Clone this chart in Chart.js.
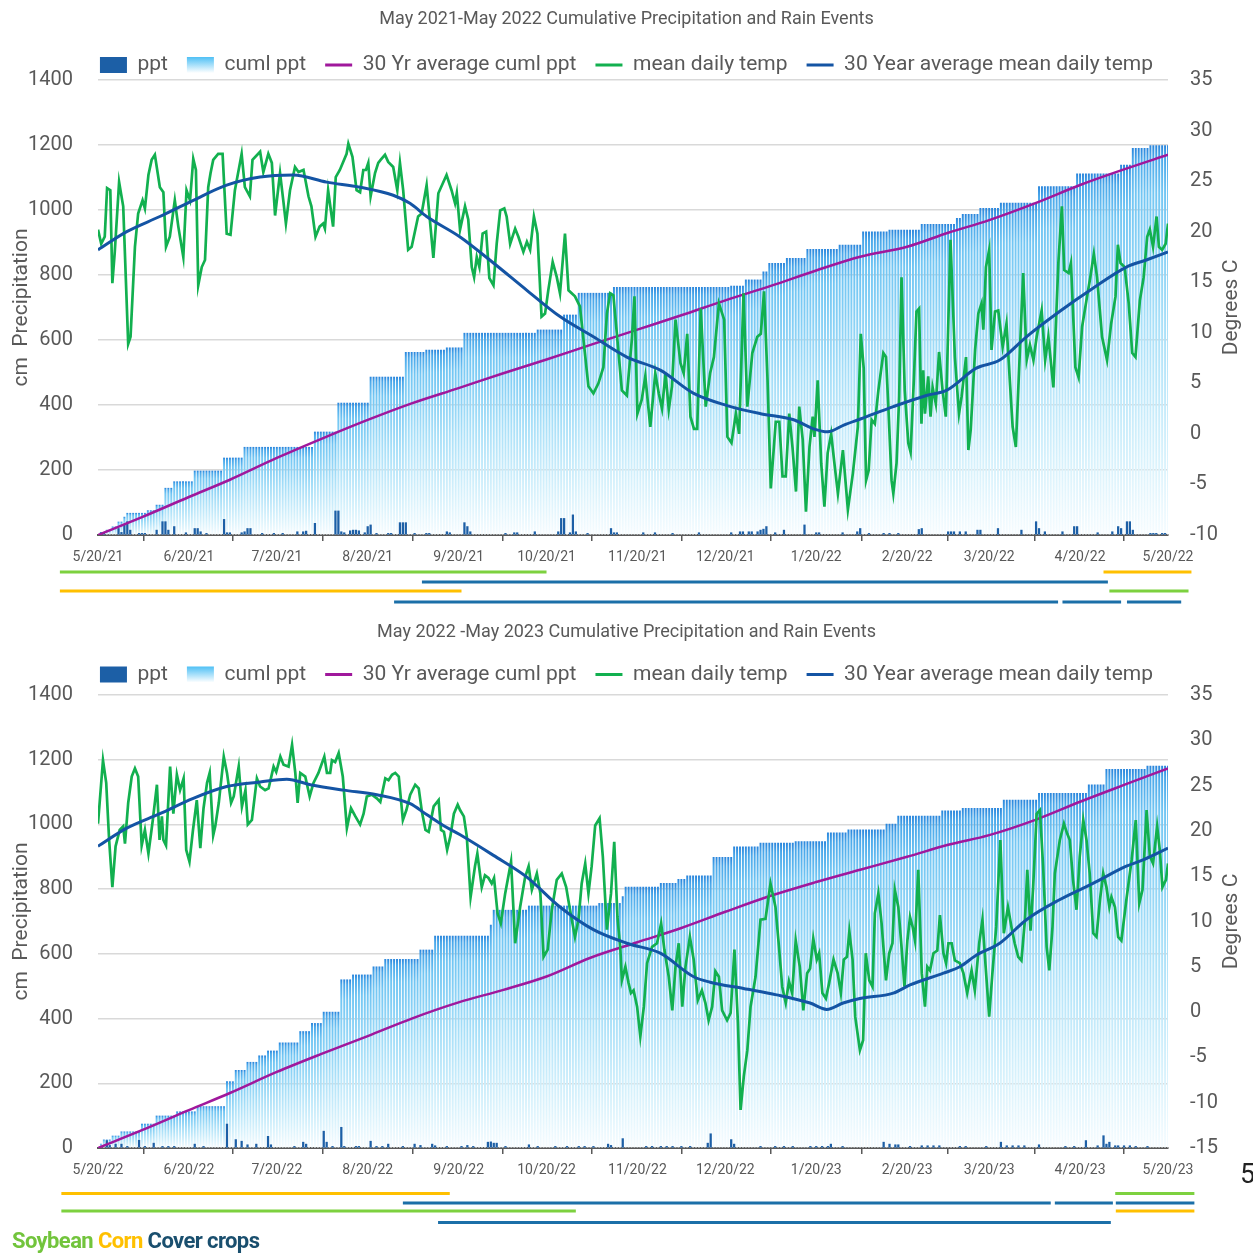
<!DOCTYPE html>
<html>
<head>
<meta charset="utf-8">
<title>Cumulative Precipitation and Rain Events</title>
<script src="https://cdn.jsdelivr.net/npm/chart.js@4.4.1/dist/chart.umd.min.js"></script>
<style>
  html, body { margin: 0; padding: 0; background: #fff; }
  body { width: 1253px; height: 1253px; position: relative; overflow: hidden; font-family: Roboto, 'Liberation Sans', sans-serif; }
  .panel { position: absolute; left: 0; width: 1253px; }
  #panel21 { top: 0; height: 610px; }
  #panel22 { top: 605px; height: 648px; }
  #cropKey { position: absolute; left: 12px; top: 1228px; font-weight: bold; font-size: 22px; letter-spacing: -0.6px; white-space: nowrap; }
  #stray { position: absolute; left: 1240px; top: 1158px; font-size: 27px; color: #222; }
</style>
</head>
<body>
<div class="panel" id="panel21"><canvas id="chart21"></canvas></div>
<div class="panel" id="panel22"><canvas id="chart22"></canvas></div>
<div id="cropKey"><span style="color:#72c43c">Soybean</span> <span style="color:#ffc000">Corn</span> <span style="color:#1a4f6e">Cover crops</span></div>
<div id="stray">5</div>
<script>
// ---- data (day 0 = 5/20 of the first year) ----
const tickDays = [0, 31, 61, 92, 123, 153, 184, 214, 245, 276, 304, 335, 365];
const tickLabels21 = ['5/20/21', '6/20/21', '7/20/21', '8/20/21', '9/20/21', '10/20/21', '11/20/21', '12/20/21', '1/20/22', '2/20/22', '3/20/22', '4/20/22', '5/20/22'];
const tickLabels22 = ['5/20/22', '6/20/22', '7/20/22', '8/20/22', '9/20/22', '10/20/22', '11/20/22', '12/20/22', '1/20/23', '2/20/23', '3/20/23', '4/20/23', '5/20/23'];

// daily rain events [day, ppt]
const ppt21 = [[1,7],[2,7],[7,20],[8,8],[9,31],[10,41],[11,15],[14,5],[15,5],[16,5],[20,15],[22,41],[23,41],[24,15],[26,26],[30,7],[33,20],[34,20],[35,10],[37,5],
  [43,48],[44,7],[45,7],[49,7],[50,10],[51,20],[52,20],[56,5],[60,5],[63,5],[68,10],[70,10],[71,12],[74,36],[81,74],[82,74],[83,10],[84,7],[86,13],[87,15],
  [88,15],[89,13],[91,7],[92,26],[93,31],[95,5],[99,5],[100,5],[103,38],[104,38],[105,38],[108,5],[112,5],[113,5],[119,10],[120,7],[125,38],[126,26],[127,10],[139,5],
  [142,7],[143,7],[149,10],[157,10],[158,51],[159,51],[161,7],[162,62],[163,10],[167,5],[175,20],[176,7],[177,7],[186,7],[190,7],[196,5],[205,7],[216,7],[219,10],[220,10],
  [222,10],[223,10],[225,10],[226,15],[227,18],[228,26],[231,7],[234,15],[241,31],[245,7],[246,7],[254,7],[259,10],[260,20],[263,5],[268,5],[270,5],[273,5],[280,17],[281,20],
  [290,10],[291,10],[292,10],[294,10],[296,10],[300,15],[301,15],[307,20],[315,15],[320,41],[321,20],[323,10],[329,10],[333,26],[334,26],[341,7],[346,10],[348,26],[349,20],[351,41],
  [352,41],[353,15],[359,5],[360,5],[361,5],[363,5],[364,5]];
const ppt22 = [[3,23],[4,8],[6,12],[8,12],[10,5],[14,24],[16,5],[19,15],[22,5],[24,5],[26,5],[33,12],[36,5],[44,74],[47,26],[49,21],[51,10],[54,12],[58,36],[59,10],
  [67,5],[70,18],[71,12],[77,52],[78,18],[80,5],[83,64],[84,5],[88,5],[89,5],[93,21],[95,5],[97,5],[99,12],[104,5],[108,12],[110,8],[114,12],[115,7],[119,5],
  [124,5],[126,8],[128,5],[133,18],[134,19],[135,15],[136,15],[139,5],[147,10],[150,5],[156,5],[160,5],[164,5],[166,5],[169,5],[174,12],[175,8],[179,29],[187,5],[189,5],
  [192,5],[194,5],[196,5],[199,5],[202,5],[208,15],[209,44],[216,26],[217,12],[226,5],[231,5],[234,5],[237,5],[243,5],[245,5],[247,5],[249,5],[250,12],[254,5],[268,18],
  [270,12],[272,10],[273,10],[277,5],[281,7],[283,7],[285,7],[287,7],[294,5],[296,5],[303,5],[308,18],[310,7],[312,7],[314,7],[316,7],[321,10],[330,5],[333,5],[337,23],
  [341,7],[343,38],[344,12],[345,18],[347,7],[348,7],[350,7],[352,7],[354,5],[358,5]];

// cumulative ppt: [day it reached this level, level]
const cuml21 = [[0,0],[1,8],[3,15],[5,25],[7,40],[9,55],[10,67],[17,75],[20,92],[23,144],[26,164],[33,197],[43,237],[50,270],[74,317],[82,406],[93,486],[105,562],[112,569],[119,576],
  [125,621],[150,631],[159,677],[164,744],[176,762],[216,766],[221,785],[227,810],[229,836],[235,851],[242,879],[253,892],[261,933],[270,938],[281,956],[293,974],[295,987],[301,1005],[308,1021],[321,1072],
  [334,1111],[349,1138],[353,1190],[359,1198]];
const cuml22 = [[0,0],[1,12],[2,25],[5,37],[8,50],[15,74],[20,99],[27,112],[34,128],[44,205],[47,240],[51,265],[55,285],[58,300],[62,325],[69,360],[73,385],[77,420],[83,520],[87,535],
  [94,560],[98,583],[110,612],[115,655],[134,689],[135,735],[147,748],[171,756],[179,777],[180,806],[192,818],[198,830],[201,841],[210,898],[217,931],[226,942],[238,947],[249,974],[256,983],[269,1001],
  [273,1026],[288,1042],[295,1050],[309,1075],[321,1096],[338,1122],[344,1170],[358,1180]];

// 30 yr average cumulative ppt [day, value]
const avgCuml21 = [[0,0],[15,55],[31,117],[45,170],[61,237],[76,295],[92,354],[107,405],[123,452],[138,497],[153,540],[168,585],[184,632],[199,676],[214,722],[230,768],[245,814],[260,856],[276,887],[290,930],
  [304,969],[320,1022],[335,1077],[350,1125],[365,1170]];
const avgCuml22 = [[0,0],[15,55],[31,117],[45,170],[61,235],[76,290],[92,346],[107,400],[123,450],[138,488],[153,530],[168,588],[184,636],[199,680],[214,730],[230,781],[245,822],[260,860],[276,900],[290,937],
  [304,967],[320,1015],[335,1070],[350,1122],[365,1173]];

// mean daily temp [day, degC]
const temp21 = [[0,20.2],[1.1,18.8],[2.3,19.5],[3.1,24.3],[4.2,24.1],[4.9,14.9],[5.7,17.9],[7.2,24.9],[8.6,22.5],[10.3,8.9],[11.1,9.6],[12.6,18.5],[13.7,21.8],[15.2,23.1],[16,22.3],[17.2,25.6],[18.3,27.1],[19.4,27.6],[21.1,24.4],[22.3,23.9],
  [23.2,18.5],[24.5,19.5],[26.2,23.1],[27.4,20.5],[29.1,17.5],[30.2,24.1],[31.4,23.1],[32.5,27.2],[33.4,26.1],[34.2,14.7],[35.4,16.5],[36.5,17.2],[37.6,24.4],[38.4,25.8],[39.3,27.1],[41,27.7],[42.5,27.7],[43.9,19.8],[45.2,19.7],[46.7,24.1],
  [49,27.7],[50.1,24.4],[51.8,23.5],[52.7,27.1],[55.3,27.9],[56.4,25.9],[58.1,27.7],[59.3,26.8],[60.4,21.6],[62.1,25.8],[63.2,23.1],[64.1,20.8],[65.5,24.1],[67.2,26.4],[68.4,25.9],[70.1,26.1],[71.8,23.5],[72.8,22.5],[74.2,19.5],[75.6,20.5],
  [76.8,20.8],[77.4,20.3],[78.5,24.1],[80.2,20.5],[81.1,25.4],[82.5,26.1],[84.8,27.7],[85.4,28.7],[86.8,27.4],[88.2,24.1],[89.4,23.9],[90.5,26.1],[91.4,26.1],[92.2,26.8],[93,23.5],[94.5,25.8],[95.6,26.8],[96.4,27.1],[97.9,27.6],[99,26.9],
  [100.7,26.4],[102.1,24.1],[103,26.8],[104.1,24.1],[105.8,18.2],[107,18.5],[109.2,21.5],[110.4,21.8],[112.1,24.6],[113.2,21.2],[114.4,17.4],[116.1,23.8],[118.9,25.6],[120.6,24.1],[121.8,22.8],[122.4,23.8],
  [123.5,20.2],[125.2,22.5],[126.3,21.2],[127.5,16.5],[128.3,15.5],[129.2,17.5],[130.1,16.5],[131.2,19.8],[132.4,20],[133.5,15.4],[134.9,14.7],[136,18.8],[137.2,22.1],[138.6,22.3],[139.4,21.5],[140.6,18.8],[142.3,20.3],[143.4,19.5],[145.1,18],[146.3,19],
  [147.4,18.2],[148.7,21.5],[149.9,19.8],[151.3,11.6],[152.5,11.9],[153.6,14.2],[155.1,17],[156.5,15.5],[157.6,13.9],[159.3,19.8],[160.5,14.2],[162.7,13.6],[164.4,12.6],[167.3,4.7],[169,4],[170.7,5],[172.4,6.6],[173.6,11.9],[174.7,13.9],[175.8,13.7],
  [177,9.9],[178.7,4.3],[180.4,3.8],[182.1,9.3],[183,13.6],[184,2],[185.5,3.4],[186.7,5.7],[188.4,0.7],[190.1,6],[191.3,4],[192.4,2.5],[193.6,6],[194.7,2.4],[195.8,4.7],[197,11.3],[198.7,7],[199.8,6],[201,9.9],[202.1,1.7],
  [203.3,0.5],[204.4,0.5],[205.6,12.4],[207.3,2.7],[208.8,6],[210.1,7.6],[211.8,12.9],[213.6,11.3],[214.7,-0.3],[216.1,-0.9],[217.6,2],[218.7,0],[220.2,13.9],[221.5,2.7],[223.2,8],[224.9,9.6],[226.1,9.9],[227.2,14.1],[228.4,5.3],[229.5,-5.4],
  [231.2,1.2],[232.4,1.2],[233.5,-4.2],[234.6,-4.2],[235.8,2],[236.9,-1.3],[238.1,-5.7],[239.2,2.7],[240.4,-0.6],[241.5,-7.7],[242.7,-1.3],[243.8,1.7],[244.4,-0.3],[245.5,5.3],[246.7,-2.9],[247.8,-7.2],[248.9,-1.9],[250.1,0],[251.2,-2.9],[252.4,-5.9],
  [254.1,-1.6],[255.8,-7.5],[257.5,-3.9],[259.2,0.7],[260.2,9.9],[261.2,6.5],[262,-4.6],[262.9,-3.6],[263.9,1.4],[265,1],[266.2,4.3],[267.9,8],[268.8,7.6],[269.6,2.7],[270.7,-4.6],[271.3,-5.9],[272.4,-2.9],[273.3,3.7],[274.1,15.5],[275.2,4.3],
  [276.4,-0.9],[277.2,-1.8],[278.3,5.3],[279.2,12.1],[280.1,12.4],[280.9,1],[281.5,6.3],[282.1,2],[283.2,5.7],[284,1.7],[284.7,4.6],[285.8,3],[286.9,8.1],[288.1,4.3],[289.2,1.7],[290,10.3],[290.8,19.2],[292.3,7.6],[293.7,2],[294.6,3.7],
  [296.1,7.6],[296.9,-1.6],[297.7,0.4],[299.2,8.3],[300.3,11.9],[301.4,12.9],[302,10.3],[302.9,16.5],[304,18.2],[304.8,8.3],[306,12.1],[307.1,12.2],[308.6,8.6],[309.9,10.9],[311.1,5],[312,0.7],[313.1,-1.3],[314.3,7],[315.6,15.9],[316.8,7.3],
  [317.9,8.8],[319.1,7.3],[320.2,9.6],[321.9,12.2],[323.1,7.3],[324.2,9.6],[325.9,4.6],[327.6,16.9],[328.8,22.5],[329.6,16.2],[331.1,15.9],[331.9,16.9],[333.4,6.6],[334.5,5.6],[335.7,10.6],[337.4,13.6],[338.5,15.5],[339.7,17.8],[340.8,15.5],[342.5,9.6],
  [344.2,7.3],[345.6,10.9],[347.1,13.6],[347.9,18.7],[348.8,16.9],[350.2,16.5],[351.6,12.9],[352.8,8],[353.9,7.6],[355.4,13.2],[356.7,15.5],[357.9,19.5],[358.8,20.2],[359.9,18.5],[361.1,21.5],[361.9,18.5],[363,18.2],[364.2,18.8],[365,20.8]];
const temp22 = [[0,20.8],[1.7,27.8],[2.8,25.3],[3.8,19],[4.9,13.8],[6,18.3],[7.4,20.1],[8.6,20.5],[9.2,18.6],[10.3,23.1],[11.5,26],[12.6,26.9],[13.7,26],[14.9,18.4],[16,20.1],[17.2,17.5],[18.7,21.2],[20.1,25.1],[21,19],[21.8,21.6],
  [22.3,19],[23.2,18.4],[24.6,27.1],[25.7,21.9],[26.9,26.2],[28,24.5],[29.2,25.8],[30.1,17.9],[31.2,16.6],[32.4,20.1],[33.7,23.4],[34.9,18.1],[36,22.5],[37.2,25.3],[38.1,26.4],[39.3,19.5],[40,20.5],[41.2,23.1],[42.9,28.2],[44,26.4],
  [45.4,23.1],[46.3,23.8],[48,27.1],[49.1,22.7],[50.3,24.5],[51.1,20.7],[52.5,21.2],[54.2,25.8],[55.3,24.9],[57,24.5],[58.2,24.7],[59.9,27.1],[60.8,26.5],[62.2,28.2],[63.3,27.3],[65,27.1],[66.2,29.5],[67.3,26.4],[68.1,23.1],[69,26.4],
  [70.7,26],[72.2,23.8],[73.5,25.3],[75.2,26.4],[77.2,28.2],[78.1,26.4],[79.2,26.4],[79.8,27.8],[80.9,27.6],[82.1,28.6],[83.5,26],[84.9,20.3],[86.3,22.5],[87.8,21.6],[89.4,20.7],[90.6,21.9],[91.7,23.8],[93.4,24],[95.1,23.6],[96.3,23.2],
  [98,25.8],[99.1,25.6],[100.3,26.2],[101.4,26.4],[102.6,26],[104,21.2],[105.2,22.3],[106.5,24],[108.2,25.1],[109.4,24.7],[110.5,22.1],[111.7,20.1],[112.8,19.9],[114.5,22.7],[116.2,23.4],[117,20.1],[118,19.9],[119.1,17.9],[120.2,19.4],[121.4,21.9],
  [122.7,22.9],[123.5,22.3],[124.8,21.6],[125.8,19.4],[127.1,12.7],[128.6,16.1],[129.4,17.5],[130.9,13.8],[132,15.1],[133.2,14.8],[134.3,14.2],[135.1,14.8],[136.3,10.9],[137.4,9.8],[138.9,13.1],[140.9,16.6],[142.3,7.6],[144,11.6],[145.7,14.9],[146.9,16.1],
  [148,13.5],[149.7,15.3],[150.9,13.1],[152,6.1],[153.4,6.9],[154.8,11.3],[156.5,14.6],[158.2,15.3],[159.7,13.8],[161,11.3],[162.7,8.3],[163.9,10.2],[165,14.2],[166.2,16.4],[167.3,13.1],[168.4,16.1],[169.6,20.6],[171.1,21.4],[172.2,17.2],[173.6,9.1],
  [175,13.1],[176.1,18.8],[177.2,10.5],[178.2,6.9],[178.7,3.5],[179.9,5],[181,3.2],[181.8,2.1],[182.7,2.4],[183.9,0.6],[185,-2.7],[186.2,0.6],[187.3,5.4],[189,7.2],[190.7,7.6],[192.1,9.8],[193.2,6.9],[194.7,3.9],[195.9,0.2],[197,5],
  [198.1,7.6],[199.3,0.6],[200.4,5],[201.9,8.3],[203.2,5.8],[204.6,1.3],[206,2.4],[207.2,1],[208.3,-0.9],[209.5,0.6],[210.6,4.5],[211.8,3.9],[212.9,0.2],[214.6,-0.9],[215.8,-0.1],[217.1,6.9],[218.3,-1.2],[219.2,-10.8],[220.3,-7.1],[221.5,-4.2],
  [222.6,0.6],[224.3,3.9],[226,10.2],[227.7,10.3],[229.4,14.2],[231.1,11.6],[232.3,7.2],[233.4,2.8],[234.6,1],[235.7,3.4],[236.8,2.1],[238,7.9],[239.4,5],[240.6,0.2],[241.9,4.3],[242.9,4.8],[244,8.1],[245.2,5.8],[246,6.5],[247.1,2.1],
  [248.3,1.5],[249.4,3.2],[250.9,5.8],[252.3,4.3],[253.4,2.1],[254.4,5.8],[255.5,6.1],[256.3,8.9],[257.4,5.8],[258.3,-0.5],[259.9,-4.2],[261,-3.1],[261.9,6.5],[263.1,3.5],[264.2,2.8],[265,10.9],[266.2,13.1],[267.3,9.8],[268.8,3.5],[269.9,6.5],
  [271,7.6],[271.8,13.5],[273,11.6],[274.1,7.2],[275.1,2.8],[276.1,7.9],[277,10.5],[277.9,9.4],[278.7,7.9],[279.8,15.7],[281,4.3],[282.1,0.6],[282.9,5],[283.8,4.6],[285,6.5],[286.3,6.8],[287.2,10.7],[288.4,6.5],[289.3,5.4],[290.1,7.6],
  [291.2,7.6],[292.3,5.7],[294,5.4],[295.2,4.3],[296.5,2.1],[298,4.6],[299.1,2.4],[300.6,7.6],[301.7,10.2],[302.8,5],[304,-0.5],[305.1,4.3],[306.4,9.4],[307.8,19],[309,8.7],[310.4,11.6],[311.6,9.4],[312.7,7.6],[313.9,6.1],[315,5.7],
  [316.2,10.2],[317,15.7],[318.1,9],[319,13.8],[320.2,21.9],[321.3,22.3],[322.4,16.1],[323.6,7.2],[324.5,4.6],[325.6,9.4],[326.4,15.3],[328.1,19],[329.5,20.8],[330.6,19.7],[331.5,19],[332.6,14.6],[333.8,11.3],[334.9,17.2],[336.1,21.2],[337.2,19],
  [338.3,15.3],[339.5,8.7],[340.6,8.3],[341.8,12.4],[342.9,15.3],[344,13.8],[345,11.6],[345.7,12.7],[346.9,11.6],[348,8.3],[349.1,7.9],[350.8,12.4],[352.6,16.8],[354,21.2],[355.2,12],[356.3,13.5],[357.7,22.3],[358.8,17.2],[359.9,16.4],[361.3,20.5],
  [362.2,17.9],[363.1,13.8],[364.3,14.6],[365,16.4]];

// 30 year average mean daily temp [day, degC]
const avgTemp21 = [[0,18.2],[9.8,20],[21.1,21.5],[32.5,23.1],[43.9,24.6],[55.3,25.4],[66.6,25.6],[78,24.9],[89.4,24.4],[100.7,23.6],[106.4,22.8],[112.1,21.5],[123.4,19.5],[134.9,16.9],[146.3,14.2],[157.6,11.6],[169,9.6],[180.4,7.6],[191.8,6.3],[203.2,4],
  [214.6,2.8],[226,2],[237.3,1.4],[244.1,0.5],[248.9,0.2],[254.6,0.9],[260.3,1.5],[271.3,2.7],[282.6,3.8],[289.4,4.3],[299.6,6.5],[307.6,7.3],[316.7,9.6],[328,12.1],[339.4,14.4],[350.8,16.5],[357.6,17.2],[365,18]];
const avgTemp22 = [[0,18.3],[9.8,20.3],[21.1,21.9],[32.5,23.6],[43.9,24.9],[55.3,25.4],[64.4,25.7],[72.4,25.1],[83.7,24.5],[95.1,24],[106.5,23],[112.1,21.8],[117.8,20.6],[123.4,19.6],[134.9,17.3],[146.3,14.9],[157.6,11.6],[169,9.1],[180.4,7.6],[191.8,6.5],
  [203.2,3.9],[208.8,3.3],[220.2,2.6],[231.5,1.9],[242.9,1],[248.6,0.3],[254.2,1],[259.9,1.5],[271.3,2.1],[277,3],[288.4,4.3],[294,5],[299.7,6.3],[307.6,7.6],[316.7,10.2],[328,12.4],[339.4,14.2],[350.8,16.1],[356.5,16.8],[365,18.1]];

// crop periods drawn under the axis [from day, to day, row, crop]
const crops21 = [[-13,153,0,'soy'],[343,373,0,'corn'],[110.5,344.5,1,'cover'],[-13,124,2,'corn'],[345,372,2,'soy'],[101,327.5,3,'cover'],[329,349,3,'cover'],[351,369.5,3,'cover']];
const crops22 = [[-12.5,120,0,'corn'],[347,374,0,'soy'],[104,325,1,'cover'],[326.4,346.2,1,'cover'],[347.2,374,1,'cover'],[-12.5,163,2,'soy'],[347.2,374,2,'corn'],[116,345.5,3,'cover']];

// ---- styles ----
const FONT = "Roboto, 'Liberation Sans', sans-serif";
const TEXT = '#595959';
const PPT_COLOR = '#1c5fa6';
const AVG_CUML_COLOR = '#a0189c';
const TEMP_COLOR = '#12b04f';
const AVG_TEMP_COLOR = '#1454a4';
const CROP_COLORS = { soy: '#7dd13f', corn: '#ffc000', cover: '#1b6fa8' };

Chart.defaults.font.family = FONT;

function toPoints(list) {
  return list.map(p => ({ x: p[0], y: p[1] }));
}

// cumulative total held from one rain day to the next
function dailyCuml(steps) {
  const out = [];
  let k = 0;
  for (let d = 0; d <= 365; d++) {
    while (k + 1 < steps.length && steps[k + 1][0] <= d) k++;
    out.push({ x: d, y: steps[k][1] });
  }
  return out;
}

function cumlFill(c) {
  const chart = c.chart;
  if (!chart.chartArea || c.type !== 'data') return '#8fd6f6';
  const y = chart.scales.y;
  const top = y.getPixelForValue(c.raw.y);
  const base = y.getPixelForValue(0);
  if (base - top < 1) return '#8fd6f6';
  const g = chart.ctx.createLinearGradient(0, top, 0, base);
  g.addColorStop(0, '#2a86dc');
  g.addColorStop(0.03, '#4aa8ea');
  g.addColorStop(0.12, '#72c6f3');
  g.addColorStop(0.45, '#a7dff8');
  g.addColorStop(0.8, '#d8f2fc');
  g.addColorStop(1, '#f6fcff');
  return g;
}

function legendLabels(chart) {
  const looks = [
    { pointStyle: 'rect', fillStyle: PPT_COLOR, strokeStyle: PPT_COLOR, lineWidth: 0 },
    { pointStyle: 'rect', fillStyle: '#8fd6f6', strokeStyle: '#8fd6f6', lineWidth: 0 },
    { pointStyle: 'line', fillStyle: AVG_CUML_COLOR, strokeStyle: AVG_CUML_COLOR, lineWidth: 3 },
    { pointStyle: 'line', fillStyle: TEMP_COLOR, strokeStyle: TEMP_COLOR, lineWidth: 3 },
    { pointStyle: 'line', fillStyle: AVG_TEMP_COLOR, strokeStyle: AVG_TEMP_COLOR, lineWidth: 3 }
  ];
  return chart.data.datasets.map((ds, i) => Object.assign({ text: ds.label, datasetIndex: i, hidden: false, fontColor: TEXT }, looks[i]));
}

const decor = {
  id: 'decor',
  afterLayout(chart, args, opts) {
    if (chart.legend && opts.legendShift) {
      chart.legend.top += opts.legendShift;
      chart.legend.bottom += opts.legendShift;
    }
  },
  beforeDraw(chart) {
    const lg = chart.legend;
    if (!lg || !lg.legendItems || !lg.legendItems[1]) return;
    const cy = lg.top + 19 + 21 / 2;
    const g = chart.ctx.createLinearGradient(0, cy - 8, 0, cy + 8);
    g.addColorStop(0, '#4fc0f5');
    g.addColorStop(1, '#ffffff');
    lg.legendItems[1].fillStyle = g;
  },
  afterDraw(chart, args, opts) {
    const ctx = chart.ctx;
    const area = chart.chartArea;
    const x = chart.scales.x;
    ctx.save();
    ctx.lineWidth = 3;
    ctx.lineCap = 'butt';
    opts.crops.forEach(c => {
      const y = area.bottom + opts.rowY[c[2]];
      ctx.strokeStyle = CROP_COLORS[c[3]];
      ctx.beginPath();
      ctx.moveTo(x.getPixelForValue(c[0]), y);
      ctx.lineTo(x.getPixelForValue(c[1]), y);
      ctx.stroke();
    });
    // right axis title reads bottom to top
    ctx.translate(area.right + 64, (area.top + area.bottom) / 2);
    ctx.rotate(-Math.PI / 2);
    ctx.fillStyle = TEXT;
    ctx.font = '21px ' + FONT;
    ctx.textAlign = 'center';
    ctx.textBaseline = 'middle';
    ctx.fillText('Degrees C', 0, 0);
    ctx.restore();
  }
};

function makeChart(id, o) {
  return new Chart(document.getElementById(id), {
    type: 'bar',
    data: {
      datasets: [
        { label: 'ppt', type: 'bar', data: toPoints(o.ppt), backgroundColor: PPT_COLOR, barThickness: 1.6, grouped: false, yAxisID: 'y', order: 3 },
        { label: 'cuml ppt', type: 'bar', data: dailyCuml(o.cuml), backgroundColor: cumlFill, barThickness: 1.3, grouped: false, yAxisID: 'y', order: 4 },
        { label: '30 Yr average cuml ppt', type: 'line', data: toPoints(o.avgCuml), borderColor: AVG_CUML_COLOR, borderWidth: 2.5, pointRadius: 0, cubicInterpolationMode: 'monotone', fill: false, yAxisID: 'y', order: 2 },
        { label: 'mean daily temp', type: 'line', data: toPoints(o.temp), borderColor: TEMP_COLOR, borderWidth: 2.7, pointRadius: 0, tension: 0, fill: false, yAxisID: 'y1', order: 1 },
        { label: '30 Year average mean daily temp', type: 'line', data: toPoints(o.avgTemp), borderColor: AVG_TEMP_COLOR, borderWidth: 3, pointRadius: 0, cubicInterpolationMode: 'monotone', fill: false, yAxisID: 'y1', order: 0 }
      ]
    },
    options: {
      responsive: true,
      maintainAspectRatio: false,
      animation: false,
      events: [],
      layout: { padding: { left: 0, right: 0, top: 0, bottom: o.padBottom } },
      plugins: {
        title: { display: true, text: o.title, color: TEXT, font: { family: FONT, size: 18, weight: 'normal' }, padding: { top: o.titleTop, bottom: o.titleBottom } },
        legend: {
          display: true,
          position: 'top',
          labels: { usePointStyle: true, pointStyleWidth: 27, boxHeight: 16, padding: 19, color: TEXT, font: { family: FONT, size: 21 }, generateLabels: legendLabels }
        },
        tooltip: { enabled: false },
        decor: { crops: o.crops, rowY: o.rowY, legendShift: o.legendShift }
      },
      scales: {
        x: {
          type: 'linear',
          min: 0,
          max: 365,
          offset: false,
          afterFit: s => { s.height = 30; },
          afterBuildTicks: s => { s.ticks = tickDays.map(v => ({ value: v })); },
          ticks: { autoSkip: false, maxRotation: 0, color: TEXT, font: { size: 14 }, padding: 8, callback: (v, i) => o.tickLabels[i] },
          grid: { drawOnChartArea: false, drawTicks: true, tickLength: 6, color: TEXT, lineWidth: 1.5 },
          border: { display: true, color: TEXT, width: 2 }
        },
        y: {
          position: 'left',
          min: 0,
          max: 1400,
          afterFit: s => { s.width = 98; },
          ticks: { stepSize: 200, padding: 25, color: TEXT, font: { size: 20 }, callback: v => String(v) },
          grid: { color: '#d9d9d9', lineWidth: 1.5, drawTicks: false },
          border: { display: false },
          title: { display: true, text: 'cm  Precipitation', color: TEXT, font: { size: 21 }, padding: { top: 9, bottom: 0 } }
        },
        y1: {
          position: 'right',
          min: o.tMin,
          max: 35,
          afterFit: s => { s.width = 85; },
          ticks: { stepSize: 5, padding: 22, color: TEXT, font: { size: 20 }, callback: v => String(v) },
          grid: { drawOnChartArea: false, drawTicks: false },
          border: { display: false }
        }
      }
    },
    plugins: [decor]
  });
}

makeChart('chart21', {
  title: 'May 2021-May 2022 Cumulative Precipitation and Rain Events',
  tickLabels: tickLabels21, ppt: ppt21, cuml: cuml21, avgCuml: avgCuml21, temp: temp21, avgTemp: avgTemp21,
  crops: crops21, rowY: [37, 47, 56, 67], tMin: -10,
  titleTop: 8.4, titleBottom: 0, legendShift: 5.5, padBottom: 45
});

makeChart('chart22', {
  title: 'May 2022 -May 2023 Cumulative Precipitation and Rain Events',
  tickLabels: tickLabels22, ppt: ppt22, cuml: cuml22, avgCuml: avgCuml22, temp: temp22, avgTemp: avgTemp22,
  crops: crops22, rowY: [45.5, 55, 63, 74.5], tMin: -15,
  titleTop: 16.2, titleBottom: 2.2, legendShift: 0, padBottom: 75
});
</script>
</body>
</html>
